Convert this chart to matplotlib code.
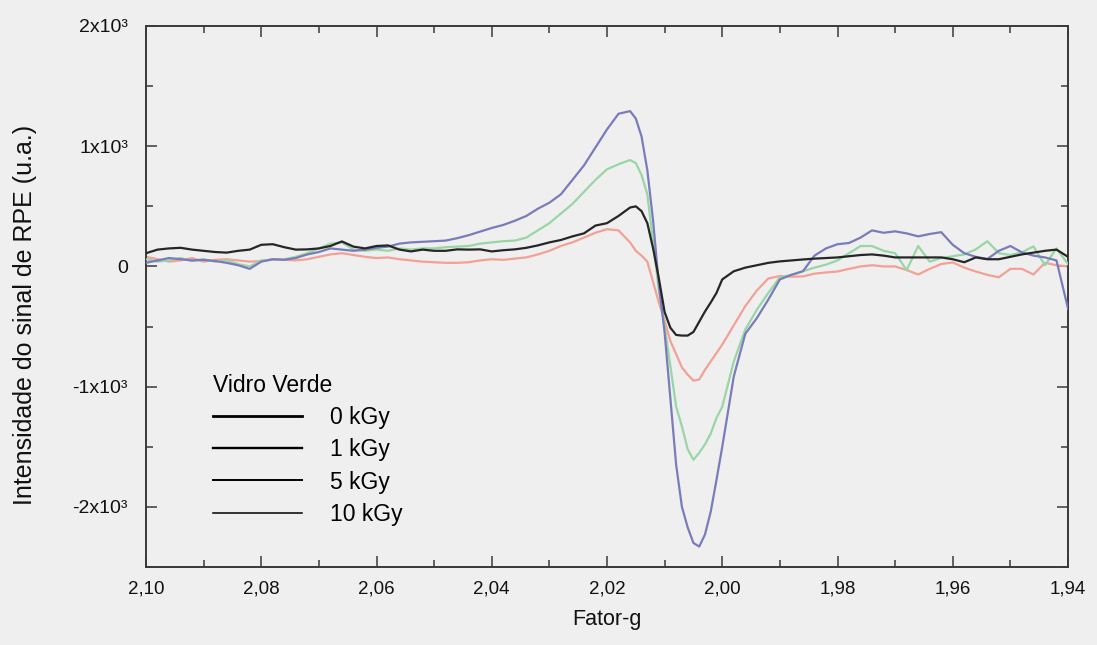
import matplotlib
matplotlib.use("Agg")
import matplotlib.pyplot as plt
from matplotlib.lines import Line2D
from matplotlib.ticker import MultipleLocator

plt.rcParams['font.family'] = ['Liberation Sans', 'DejaVu Sans']

# g-factor positions (x values)
g = [2.100, 2.098, 2.096, 2.094, 2.092, 2.090, 2.088, 2.086, 2.084, 2.082,
     2.080, 2.078, 2.076, 2.074, 2.072, 2.070, 2.068, 2.066, 2.064, 2.062,
     2.060, 2.058, 2.056, 2.054, 2.052, 2.050, 2.048, 2.046, 2.044, 2.042,
     2.040, 2.038, 2.036, 2.034, 2.032, 2.030, 2.028, 2.026, 2.024, 2.022,
     2.020, 2.018,
     2.016, 2.015, 2.014, 2.013, 2.012, 2.011, 2.010, 2.009, 2.008, 2.007,
     2.006, 2.005, 2.004, 2.003, 2.002, 2.001, 2.000,
     1.998, 1.996, 1.994, 1.992, 1.990, 1.988, 1.986, 1.984, 1.982, 1.980,
     1.978, 1.976, 1.974, 1.972, 1.970, 1.968, 1.966, 1.964, 1.962, 1.960,
     1.958, 1.956, 1.954, 1.952, 1.950, 1.948, 1.946, 1.944, 1.942, 1.940]

# EPR signal intensity (a.u.) for each dose
dose_0kGy = [110, 140, 150, 155, 140, 130, 120, 115, 130, 140,
             180, 185, 160, 140, 142, 150, 170, 208, 165, 150,
             170, 175, 140, 125, 140, 130, 130, 142, 140, 142,
             125, 135, 142, 155, 175, 200, 220, 250, 275, 340,
             360, 420,
             490, 500, 460, 360, 150, -100, -380, -510, -570, -575,
             -575, -545, -460, -375, -300, -220, -108,
             -40, -10, 10, 30, 42, 50, 58, 65, 70, 75,
             85, 95, 100, 90, 75, 75, 75, 75, 75, 60,
             35, 75, 60, 60, 80, 100, 115, 130, 140, 80]

dose_1kGy = [80, 60, 40, 50, 70, 40, 55, 60, 50, 40,
             45, 60, 55, 50, 60, 80, 100, 110, 95, 80,
             70, 75, 60, 50, 40, 35, 30, 30, 35, 50,
             60, 55, 65, 75, 100, 130, 170, 200, 240, 280,
             310, 300,
             200, 130, 90, 40, -130, -300, -450, -620, -730, -840,
             -900, -950, -940, -860, -790, -720, -650,
             -490, -330, -200, -100, -80, -85, -83, -60, -50, -42,
             -20, 0, 10, 0, 0, -30, -67, -20, 20, 33,
             -10, -42, -70, -90, -20, -20, -67, 30, 10, 0]

dose_5kGy = [60, 40, 50, 70, 45, 60, 40, 50, 20, 0,
             50, 55, 60, 80, 110, 150, 190, 200, 140, 130,
             140, 130, 150, 140, 150, 150, 160, 165, 170, 190,
             200, 210, 215, 240, 300, 360, 440, 520, 620, 720,
             808, 850,
             885, 860, 760, 600, 200, -200, -500, -830, -1167, -1330,
             -1520, -1608, -1550, -1480, -1390, -1260, -1167,
             -790, -525, -360, -220, -90, -70, -40, -10, 15, 50,
             110, 170, 170, 130, 110, -30, 170, 40, 70, 85,
             100, 142, 210, 110, 95, 117, 167, 10, 150, 20]

dose_10kGy = [30, 50, 70, 60, 50, 55, 45, 30, 10, -20,
              40, 60, 55, 70, 100, 120, 150, 140, 130, 140,
              155, 165, 190, 200, 205, 210, 215, 235, 260, 290,
              320, 345, 380, 420, 480, 530, 600, 720, 840, 990,
              1140, 1270,
              1292, 1230, 1080, 800, 380, -150, -550, -1100, -1650, -2000,
              -2170, -2300, -2330, -2230, -2040, -1775, -1500,
              -915, -560, -430, -275, -108, -70, -40, 90, 150, 185,
              195, 240, 300, 280, 292, 275, 250, 270, 285, 180,
              110, 80, 62, 130, 170, 117, 90, 75, 50, -350]

dose_labels = ['0 kGy', '1 kGy', '5 kGy', '10 kGy']
line_colors = ['#262626', '#f2a196', '#98d6a6', '#7a7cba']
legend_widths = [2.0, 1.7, 1.4, 1.1]

xtick_values = [2.10, 2.08, 2.06, 2.04, 2.02, 2.00, 1.98, 1.96, 1.94]
xtick_labels = ['2,10', '2,08', '2,06', '2,04', '2,02', '2,00', '1,98', '1,96', '1,94']
ytick_values = [-2000, -1000, 0, 1000, 2000]
ytick_labels = ['-2x10³', '-1x10³', '0', '1x10³', '2x10³']

bg = '#efefef'
fig = plt.figure(figsize=(10.97, 6.45), dpi=100, facecolor=bg)
ax = fig.add_axes([146 / 1097, 1 - 567 / 645, 922 / 1097, 541 / 645])
ax.set_facecolor(bg)

series = [dose_0kGy, dose_1kGy, dose_5kGy, dose_10kGy]
zorders = [5, 2, 3, 4]
for vals, col, z in zip(series, line_colors, zorders):
    ax.plot(g, vals, color=col, lw=1.6, zorder=z, solid_joinstyle='round')

ax.set_xlim(2.10, 1.94)
ax.set_ylim(-2500, 2000)
ax.set_xticks(xtick_values)
ax.set_xticklabels(xtick_labels)
ax.xaxis.set_minor_locator(MultipleLocator(0.01))
ax.set_yticks(ytick_values)
ax.set_yticklabels(ytick_labels)
ax.yaxis.set_minor_locator(MultipleLocator(500))

spine_col = '#3a3a3a'
for sp in ax.spines.values():
    sp.set_linewidth(1.4)
    sp.set_color(spine_col)
ax.tick_params(which='both', direction='in', top=True, right=True,
               width=1.1, color=spine_col)
ax.tick_params(which='major', length=8)
ax.tick_params(which='minor', length=5)
ax.tick_params(axis='x', labelsize=13.5, pad=10, labelcolor='#111111')
ax.tick_params(axis='y', labelsize=14, pad=13, labelcolor='#111111')

ax.set_xlabel('Fator-g', fontsize=15.5, labelpad=8, color='#111111')
ax.set_ylabel('Intensidade do sinal de RPE (u.a.)', fontsize=18, color='#111111')
ax.yaxis.set_label_coords(-0.118, 0.466)

handles = [Line2D([], [], color='black', lw=w) for w in legend_widths]
ax.legend(handles, dose_labels, title='Vidro Verde', loc='upper left',
          bbox_to_anchor=(213 / 1097, 1 - 374 / 645),
          bbox_transform=fig.transFigure, frameon=False,
          fontsize=16.5, title_fontsize=16.5, alignment='left',
          handlelength=3.9, handletextpad=1.2, labelspacing=0.4,
          borderpad=0, borderaxespad=0)

fig.savefig('out.png', dpi=100, facecolor=bg)
